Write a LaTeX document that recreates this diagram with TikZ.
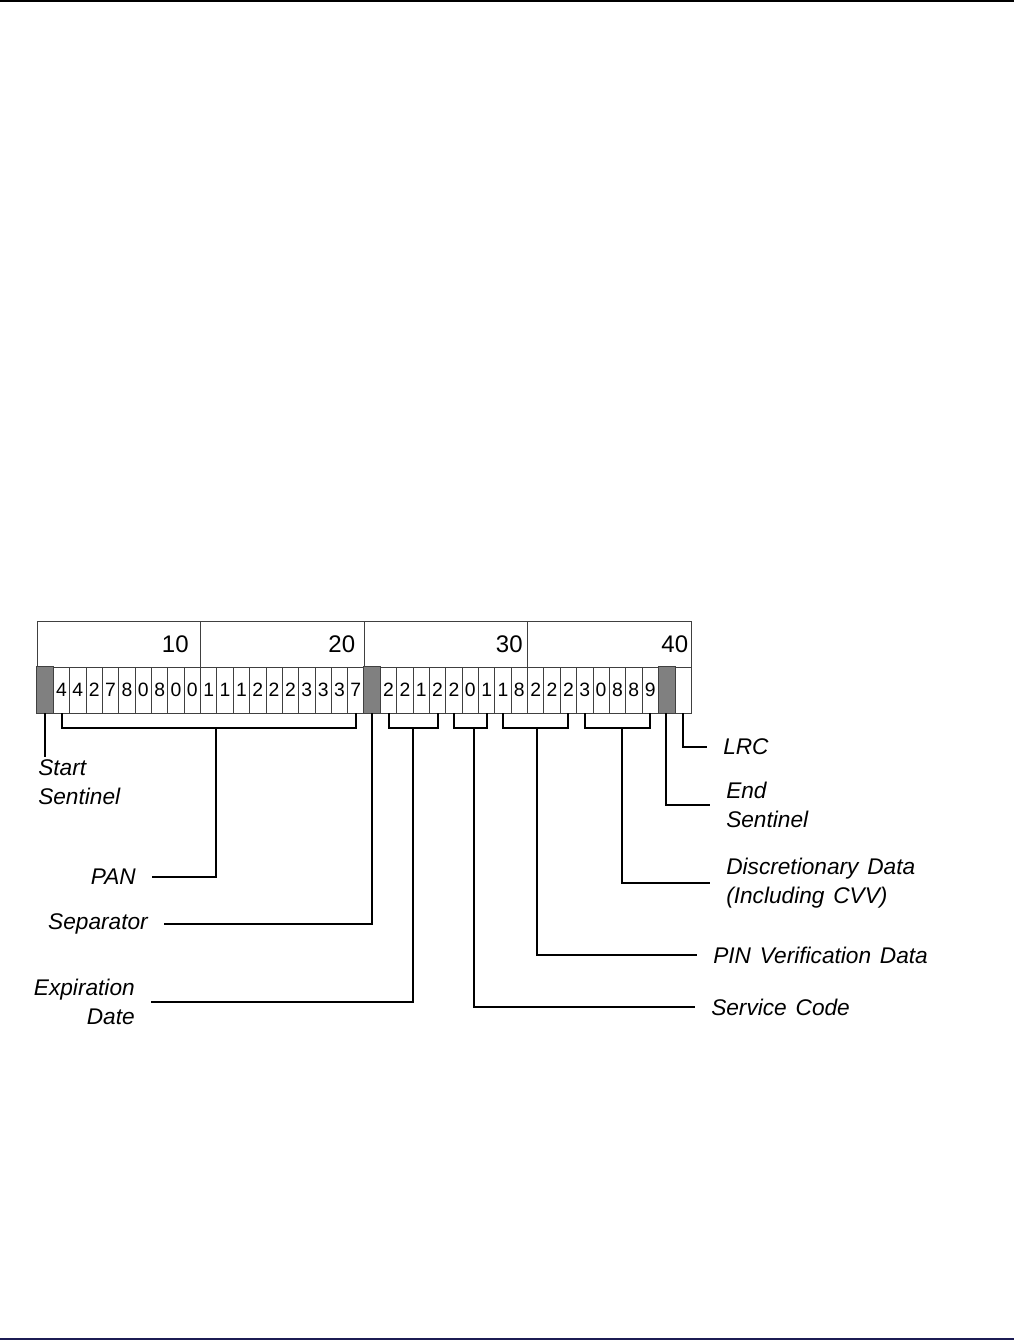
\documentclass[tikz,border=0pt]{standalone}
\usepackage{fontspec}
\setmainfont{Liberation Sans}
\newfontfamily\lblfont[WordSpace=1.4]{Liberation Sans}
\definecolor{sentgray}{RGB}{128,128,128}
\definecolor{rulenavy}{RGB}{28,28,84}

\begin{document}
\begin{tikzpicture}[x=0.75pt, y=-0.75pt,
		cell/.style={draw=black!75, line width=0.6pt, minimum width=12.26pt, minimum height=34.5pt, inner sep=0pt, font=\fontsize{14.5}{14.5}\selectfont},
		decbox/.style={draw=black!75, line width=0.6pt, minimum width=122.6pt, minimum height=34.5pt, inner sep=0pt},
		num/.style={inner sep=0pt, font=\fontsize{18}{18}\selectfont},
		lbl/.style={inner xsep=12pt, inner ysep=2pt, font=\lblfont\itshape\fontsize{17}{21.5}\selectfont},
		brk/.style={line width=1.5pt}]
		\useasboundingbox (0,0) rectangle (1014,1340);
		\draw[line width=1.5pt] (0,1) -- (1014,1);
		\draw[rulenavy, line width=1.5pt] (0,1338.5) -- (1014,1338.5);
		
		\foreach \n/\g in {1/12,2/9,3/5,4/3} {
			\node[decbox] (d\n) at ({37+(\n-0.5)*163.5},644) {};
			\node[num, anchor=east] (n\n) at ([xshift=-\g*0.75pt]d\n.east) {\n0};
		}
		\foreach \d [count=\i] in {{},4,4,2,7,8,0,8,0,0,1,1,1,2,2,2,3,3,3,7,{},2,2,1,2,2,0,1,1,8,2,2,2,3,0,8,8,9,{},{}}
			\node[cell] (c\i) at ({37+(\i-0.5)*16.35},690) {\d};
		\foreach \i in {1,21,39}
			\draw[draw=black!75, line width=0.6pt, fill=sentgray] (c\i.south west) rectangle (c\i.north east);
		
		\node[lbl, anchor=north west, align=left] (ss) at (22,757) {Start\\Sentinel};
		\node[lbl, anchor=east] (pan) at (152,877) {PAN};
		\node[lbl, anchor=east] (sep) at (164,924) {Separator};
		\node[lbl, anchor=east, align=right] (exp) at (151,1002) {Expiration\\Date};
		\node[lbl, anchor=west] (svc) at (695,1007) {Service Code};
		\node[lbl, anchor=west] (pin) at (697,955) {PIN Verification Data};
		\node[lbl, anchor=west, align=left] (disc) at (710,883) {Discretionary Data\\(Including CVV)};
		\node[lbl, anchor=west, align=left] (es) at (710,805) {End\\Sentinel};
		\node[lbl, anchor=west] (lrc) at (707,747) {LRC};
		
		\coordinate (panm) at (216,728);
		\coordinate (expm) at (413,728);
		\coordinate (svcm) at (474,728);
		\coordinate (pinm) at (537,728);
		\coordinate (discm) at (622,728);
		
		\draw[brk] (c1.south) -- (c1.south |- ss.north);
		\draw[brk] (c2.south) |- (panm) -| (c20.south);
		\draw[brk] (panm) |- (pan.east);
		\draw[brk] (c21.south) |- (sep.east);
		\draw[brk] (c22.south) |- (expm) -| (c25.south);
		\draw[brk] (expm) |- (exp.east);
		\draw[brk] (c26.south) |- (svcm) -| (c28.south);
		\draw[brk] (svcm) |- (svc.west);
		\draw[brk] (c29.south) |- (pinm) -| (c33.south);
		\draw[brk] (pinm) |- (pin.west);
		\draw[brk] (c34.south) |- (discm) -| (c38.south);
		\draw[brk] (discm) |- (disc.west);
		\draw[brk] (c39.south) |- (es.west);
		\draw[brk] (c40.south) |- (lrc.west);
	\end{tikzpicture}
\end{document}
